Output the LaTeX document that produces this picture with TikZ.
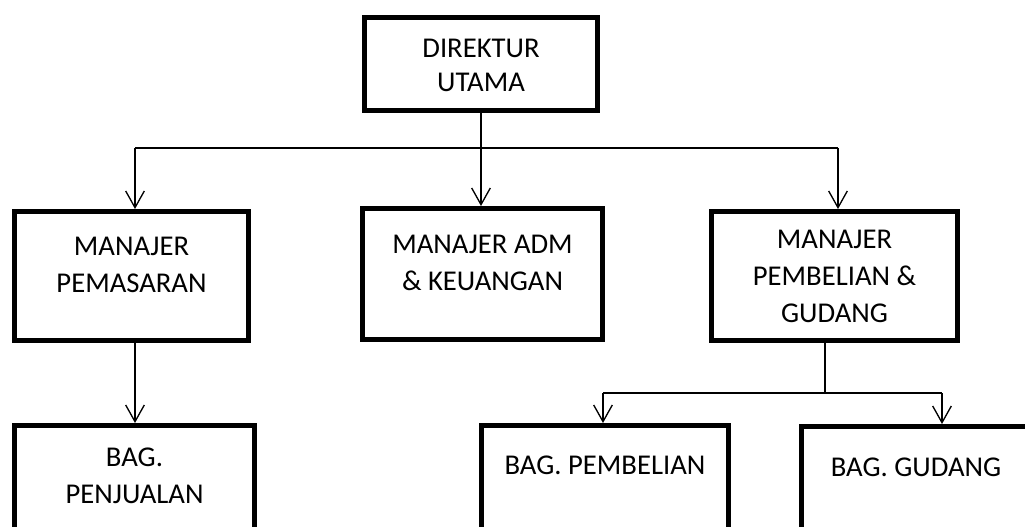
\documentclass[tikz,border=0pt]{standalone}
\usepackage{fontspec}
\setmainfont{Carlito}
\usetikzlibrary{arrows.meta}
\newdimen\pxu \pxu=0.75pt
\newcommand{\orgtext}[4]{\parbox[t][#2\pxu][t]{#1\pxu}{\centering\vspace*{#3\pxu}#4}}

\begin{document}
\begin{tikzpicture}[x=0.75pt, y=0.75pt,
    orgbox/.style={draw, line width=3.75pt, inner sep=0pt, anchor=north west,
      font=\fontsize{21.5pt}{27.75pt}\selectfont},
    link/.style={line width=1pt},
    arr/.style={link, -{Straight Barb[length=12.5pt, width=14pt]}}]
  \useasboundingbox (0,0) rectangle (1025,526);
  \clip (0,0) rectangle (1025,526);

  \node[orgbox] (dirut) at (362,511) {\orgtext{233}{93}{21.5}{DIREKTUR\\[-2.25pt]UTAMA}};
  \node[orgbox] (pms) at (12,317) {\orgtext{234}{129}{25.5}{MANAJER\\PEMASARAN}};
  \node[orgbox] (adm) at (360,320) {\orgtext{240}{131}{26.5}{MANAJER ADM\\\& KEUANGAN}};
  \node[orgbox] (pbl) at (709,317) {\orgtext{246}{129}{19}{MANAJER\\PEMBELIAN \&\\GUDANG}};
  \node[orgbox] (pjl) at (12,103) {\orgtext{240}{130}{22}{BAG.\\PENJUALAN}};
  \node[orgbox] (bpb) at (479,103) {\orgtext{247}{130}{30}{BAG. PEMBELIAN}};
  \node[orgbox] (bgd) at (799,102) {\orgtext{229}{130}{31}{BAG. GUDANG}};

  \coordinate (busl) at (135,378);
  \coordinate (busr) at (838,378);
  \coordinate (bus2l) at (603,133);
  \coordinate (bus2m) at (825,133);
  \coordinate (bus2r) at (942,133);

  \draw[link] (dirut.south) -- (dirut.south |- busl);
  \draw[link] (busl) -- (busr);
  \draw[arr] (busl) -- (busl |- pms.north);
  \draw[arr] (dirut.south |- busl) -- (dirut.south |- adm.north);
  \draw[arr] (busr) -- (busr |- pbl.north);
  \draw[arr] (pms.south -| busl) -- (busl |- pjl.north);

  \draw[link] (bus2m |- pbl.south) -- (bus2m);
  \draw[link] (bus2l) -- (bus2r);
  \draw[arr] (bus2l) -- (bus2l |- bpb.north);
  \draw[arr] (bus2r) -- (bus2r |- bgd.north);
\end{tikzpicture}
\end{document}
